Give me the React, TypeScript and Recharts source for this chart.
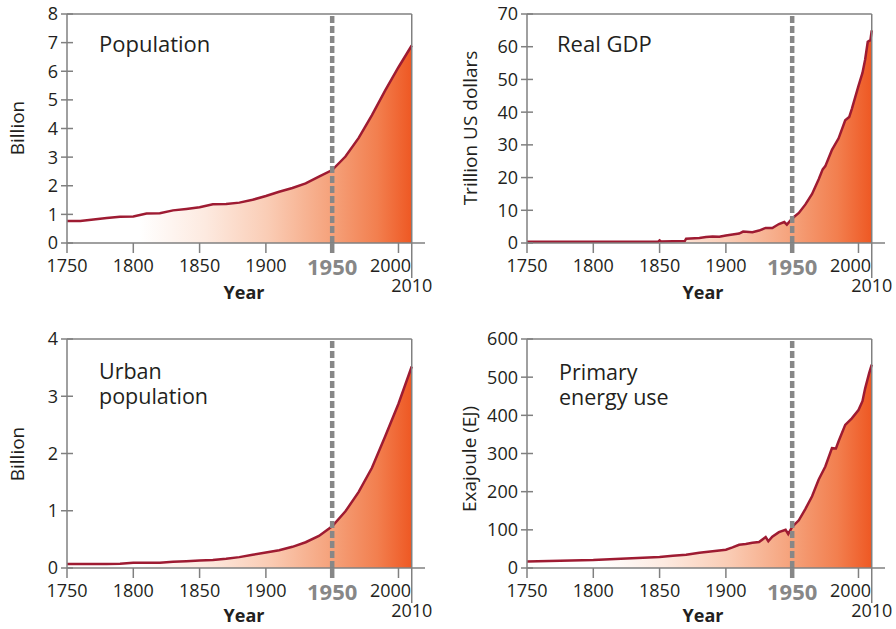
import React from "react";
import { ComposedChart, Area, XAxis, YAxis, ReferenceLine } from "recharts";

const FONT = '"Open Sans", "Noto Sans", sans-serif';
const AXIS_GRAY = "#808080";
const DASH_GRAY = "#878787";
const LINE_RED = "#9e1b32";
const TEXT = "#231f20";

// decadal series (population, urban population)
const decadeYears = [
  1750, 1760, 1770, 1780, 1790, 1800, 1810, 1820, 1830, 1840, 1850, 1860, 1870, 1880,
  1890, 1900, 1910, 1920, 1930, 1940, 1950, 1960, 1970, 1980, 1990, 2000, 2010,
];
const populationValues = [
  0.77, 0.77, 0.82, 0.87, 0.92, 0.93, 1.03, 1.04, 1.14, 1.19, 1.25, 1.35, 1.36, 1.41,
  1.51, 1.64, 1.79, 1.92, 2.08, 2.32, 2.55, 3.02, 3.67, 4.47, 5.33, 6.14, 6.9,
];
const urbanValues = [
  0.07, 0.07, 0.07, 0.07, 0.075, 0.09, 0.09, 0.09, 0.11, 0.12, 0.13, 0.14, 0.16, 0.19,
  0.23, 0.27, 0.31, 0.37, 0.45, 0.56, 0.73, 0.99, 1.33, 1.75, 2.3, 2.87, 3.52,
];

const gdpYears = [
  1750, 1800, 1849, 1850, 1851, 1869, 1870, 1880, 1885, 1890, 1895, 1900, 1905, 1910,
  1913, 1920, 1925, 1930, 1935, 1940, 1944, 1946, 1950, 1955, 1960, 1965, 1970, 1973,
  1975, 1980, 1985, 1990, 1993, 1995, 2000, 2003, 2005, 2007, 2009, 2010,
];
const gdpValues = [
  0.4, 0.4, 0.4, 0.8, 0.45, 0.6, 1.3, 1.5, 1.8, 2.0, 1.9, 2.3, 2.6, 2.9,
  3.5, 3.3, 3.8, 4.6, 4.6, 5.8, 6.4, 5.6, 7.5, 9.2, 11.8, 15, 19.5, 22.5,
  23.5, 28.5, 32, 37.5, 38.5, 41, 48, 52, 56, 61.5, 62, 65,
];

const energyYears = [
  1750, 1775, 1800, 1825, 1850, 1860, 1870, 1880, 1890, 1900, 1905, 1910, 1915, 1920,
  1925, 1930, 1932, 1935, 1940, 1945, 1947, 1950, 1955, 1960, 1965, 1970, 1975, 1980,
  1983, 1985, 1990, 1995, 2000, 2003, 2005, 2008, 2010,
];
const energyValues = [
  17, 19, 21, 25, 29, 32, 35, 40, 44, 48, 54, 61, 63, 66,
  68, 81, 70, 82, 94, 100, 89, 108, 125, 155, 188, 232, 266, 314,
  313, 332, 375, 392, 414, 437, 470, 510, 533,
];

const xTicks = [1750, 1800, 1850, 1900, 1950, 2000, 2010];
const populationTicks = [0, 1, 2, 3, 4, 5, 6, 7, 8];
const gdpTicks = [0, 10, 20, 30, 40, 50, 60, 70];
const urbanTicks = [0, 1, 2, 3, 4];
const energyTicks = [0, 100, 200, 300, 400, 500, 600];

const toRows = (years: number[], values: number[]) =>
  years.map((year, i) => ({ year, value: values[i] }));

function XTick({ x, y, payload }: any) {
  const v = payload.value;
  if (v === 1950) {
    return (
      <g>
        <line x1={x} x2={x} y1={y} y2={y + 10} stroke={DASH_GRAY} strokeWidth={4.5} />
        <text x={x} y={y + 32} textAnchor="middle" fontSize={22} fontWeight={700}
          fontFamily={FONT} fill={DASH_GRAY}>1950</text>
      </g>
    );
  }
  if (v === 2010) {
    return (
      <g>
        <line x1={x} x2={x} y1={y} y2={y + 35} stroke={AXIS_GRAY} strokeWidth={1.5} />
        <text x={x} y={y + 49} textAnchor="middle" fontSize={18} fontFamily={FONT}
          fill={TEXT}>2010</text>
      </g>
    );
  }
  return (
    <g>
      <line x1={x} x2={x} y1={y} y2={y + 10} stroke={AXIS_GRAY} strokeWidth={1.5} />
      <text x={v === 2000 ? x - 8 : x} y={y + 29} textAnchor="middle" fontSize={18}
        fontFamily={FONT} fill={TEXT}>{v}</text>
    </g>
  );
}

function YTick({ x, y, payload }: any) {
  return (
    <g>
      <line x1={x - 6} x2={x + 6} y1={y} y2={y} stroke={AXIS_GRAY} strokeWidth={1.5} />
      <text x={x - 9} y={y} dy="0.36em" textAnchor="end" fontSize={18} fontFamily={FONT}
        fill={TEXT}>{payload.value}</text>
    </g>
  );
}

interface PanelProps {
  left: number;
  top: number;
  height: number;
  margin: { top: number; right: number; bottom: number; left: number };
  yAxisWidth: number;
  rows: { year: number; value: number }[];
  yMax: number;
  yTicks: number[];
  gradId: string;
}

function Panel({ left, top, height, margin, yAxisWidth, rows, yMax, yTicks, gradId }: PanelProps) {
  return (
    <div style={{ position: "absolute", left, top }}>
      <ComposedChart width={448} height={height} data={rows} margin={margin}>
        <defs>
          <linearGradient id={gradId} x1="0" y1="0" x2="1" y2="0">
            <stop offset="0%" stopColor="#ffffff" />
            <stop offset="21%" stopColor="#ffffff" />
            <stop offset="40%" stopColor="#fdeae0" />
            <stop offset="58%" stopColor="#facdb6" />
            <stop offset="77%" stopColor="#f5a17a" />
            <stop offset="90%" stopColor="#f27f4f" />
            <stop offset="100%" stopColor="#ee5823" />
          </linearGradient>
        </defs>
        <XAxis
          dataKey="year"
          type="number"
          domain={[1750, 2020]}
          ticks={xTicks}
          interval={0}
          tickSize={0}
          tickMargin={0}
          tick={<XTick />}
          tickLine={false}
          axisLine={{ stroke: AXIS_GRAY, strokeWidth: 1.5 }}
        />
        <YAxis
          type="number"
          domain={[0, yMax]}
          ticks={yTicks}
          interval={0}
          width={yAxisWidth}
          tickSize={0}
          tickMargin={0}
          tick={<YTick />}
          tickLine={false}
          axisLine={{ stroke: AXIS_GRAY, strokeWidth: 1.5 }}
        />
        <Area
          dataKey="value"
          type="linear"
          stroke={LINE_RED}
          strokeWidth={2.5}
          fill={`url(#${gradId})`}
          fillOpacity={1}
          dot={false}
          activeDot={false}
          isAnimationActive={false}
        />
        <ReferenceLine
          segment={[{ x: 1750, y: yMax }, { x: 2010, y: yMax }]}
          stroke={AXIS_GRAY}
          strokeWidth={1.5}
        />
        <ReferenceLine x={2010} stroke={AXIS_GRAY} strokeWidth={1.5} />
        <ReferenceLine x={1950} stroke={DASH_GRAY} strokeWidth={4.5} strokeDasharray="7 3" />
      </ComposedChart>
    </div>
  );
}

function RotLabel({ cx, cy, text }: { cx: number; cy: number; text: string }) {
  return (
    <text x={cx} y={cy} transform={`rotate(-90 ${cx} ${cy})`} textAnchor="middle"
      dominantBaseline="central" fontSize={19} fontFamily={FONT} fill={TEXT}>{text}</text>
  );
}

export default function App() {
  const topMargin = (right: number) => ({ top: 14, right, bottom: 42, left: 0 });
  const bottomMargin = (right: number) => ({ top: 24, right, bottom: 31, left: 0 });
  return (
    <div style={{ position: "absolute", left: 0, top: 0, width: 896, height: 629, background: "#fff", fontFamily: FONT }}>
      <Panel left={0} top={0} height={315} margin={topMargin(23)} yAxisWidth={67}
        rows={toRows(decadeYears, populationValues)} yMax={8} yTicks={populationTicks} gradId="gPop" />
      <Panel left={448} top={0} height={315} margin={topMargin(11)} yAxisWidth={79}
        rows={toRows(gdpYears, gdpValues)} yMax={70} yTicks={gdpTicks} gradId="gGdp" />
      <Panel left={0} top={315} height={314} margin={bottomMargin(23)} yAxisWidth={67}
        rows={toRows(decadeYears, urbanValues)} yMax={4} yTicks={urbanTicks} gradId="gUrb" />
      <Panel left={448} top={315} height={314} margin={bottomMargin(11)} yAxisWidth={79}
        rows={toRows(energyYears, energyValues)} yMax={600} yTicks={energyTicks} gradId="gEn" />
      <svg width={896} height={629} style={{ position: "absolute", left: 0, top: 0, pointerEvents: "none" }}>
        <g fontFamily={FONT} fill={TEXT}>
          <text x={99} y={52} fontSize={22}>Population</text>
          <text x={557} y={52} fontSize={22}>Real GDP</text>
          <text x={99} y={379} fontSize={21.5}>Urban</text>
          <text x={99} y={404} fontSize={21.5}>population</text>
          <text x={559} y={380} fontSize={21.5}>Primary</text>
          <text x={559} y={405} fontSize={21.5}>energy use</text>
          <text x={244} y={299} fontSize={18} fontWeight={700} textAnchor="middle">Year</text>
          <text x={703} y={299} fontSize={18} fontWeight={700} textAnchor="middle">Year</text>
          <text x={244} y={622} fontSize={18} fontWeight={700} textAnchor="middle">Year</text>
          <text x={703} y={622} fontSize={18} fontWeight={700} textAnchor="middle">Year</text>
        </g>
        <RotLabel cx={17} cy={128} text="Billion" />
        <RotLabel cx={470} cy={128} text="Trillion US dollars" />
        <RotLabel cx={17} cy={454} text="Billion" />
        <RotLabel cx={469} cy={459} text="Exajoule (EJ)" />
      </svg>
    </div>
  );
}
